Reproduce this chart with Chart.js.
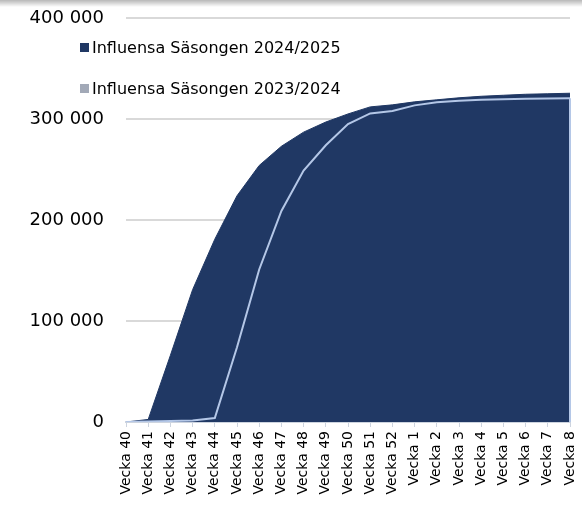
<!DOCTYPE html>
<html>
<head>
<meta charset="utf-8">
<script src="https://cdn.jsdelivr.net/npm/chart.js@4/dist/chart.umd.min.js"></script>
<style>
  html, body { margin: 0; padding: 0; background: #fff; }
  #wrap { position: relative; width: 582px; height: 505px; overflow: hidden; }
  #shade { position: absolute; left: 0; top: 0; width: 582px; height: 7px;
           background: linear-gradient(to bottom, rgba(0,0,0,0.28), rgba(0,0,0,0)); pointer-events: none; }
  #legend { position: absolute; left: 80px; top: 0; font-family: "DejaVu Sans", Verdana, sans-serif;
            font-size: 16px; color: #000; }
  .item { position: absolute; left: 0; white-space: nowrap; display: flex; align-items: center; height: 18px; }
  .box { width: 9px; height: 9px; margin-right: 3px; }
</style>
</head>
<body>
<div id="wrap">
  <canvas id="c" width="582" height="505"></canvas>
  <div id="legend"></div>
  <div id="shade"></div>
</div>
<script>
const categories = ['Vecka 40','Vecka 41','Vecka 42','Vecka 43','Vecka 44','Vecka 45','Vecka 46','Vecka 47','Vecka 48','Vecka 49','Vecka 50','Vecka 51','Vecka 52','Vecka 1','Vecka 2','Vecka 3','Vecka 4','Vecka 5','Vecka 6','Vecka 7','Vecka 8'];
const season2425 = [0, 2500, 66000, 131000, 181000, 224000, 254000, 273000, 287000, 297000, 305000, 312000, 314000, 317000, 319000, 321000, 322500, 323500, 324500, 325000, 325500];
const season2324 = [0, 500, 1000, 1500, 4000, 74000, 151000, 209000, 249000, 274000, 295000, 305500, 308000, 313500, 316500, 318000, 319000, 319500, 320000, 320300, 320500];
const yTicks = [0, 100000, 200000, 300000, 400000];
const seriesLabels = ['Influensa Säsongen 2024/2025', 'Influensa Säsongen 2023/2024'];

const NAVY = '#203864';
const LIGHT = '#B4C7E7';
const legendColors = [NAVY, '#A2A9B7'];
const legendTops = [38, 79];

const legendEl = document.getElementById('legend');
seriesLabels.forEach((lab, i) => {
  const d = document.createElement('div');
  d.className = 'item';
  d.style.top = legendTops[i] + 'px';
  const b = document.createElement('span');
  b.className = 'box';
  b.style.background = legendColors[i];
  const t = document.createElement('span');
  t.textContent = lab;
  d.appendChild(b); d.appendChild(t);
  legendEl.appendChild(d);
});

const edgePlugin = {
  id: 'edge',
  afterDatasetsDraw(chart) {
    const meta = chart.getDatasetMeta(1);
    const pts = meta.data;
    const last = pts[pts.length - 1];
    const y0 = chart.scales.y.getPixelForValue(0);
    const ctx = chart.ctx;
    ctx.save();
    ctx.strokeStyle = LIGHT;
    ctx.lineWidth = 2;
    ctx.beginPath();
    ctx.moveTo(last.x, last.y);
    ctx.lineTo(last.x, y0);
    ctx.stroke();
    ctx.restore();
  }
};

const fmt = v => String(v).replace(/\B(?=(\d{3})+(?!\d))/g, ' ');

new Chart(document.getElementById('c'), {
  type: 'line',
  data: {
    labels: categories,
    datasets: [
      { label: seriesLabels[0], data: season2425, fill: 'origin', backgroundColor: NAVY,
        borderColor: NAVY, borderWidth: 1, pointRadius: 0, tension: 0, order: 2 },
      { label: seriesLabels[1], data: season2324, fill: 'origin', backgroundColor: NAVY,
        borderColor: LIGHT, borderWidth: 2, pointRadius: 0, tension: 0, order: 1 }
    ]
  },
  options: {
    responsive: false,
    animation: false,
    layout: { padding: { left: 30, top: 18, right: 12, bottom: 0 } },
    plugins: { legend: { display: false }, tooltip: { enabled: false } },
    scales: {
      x: {
        offset: false,
        grid: { drawOnChartArea: false, drawTicks: true, tickLength: 5, color: '#CDD4DF', lineWidth: 1 },
        border: { display: true, color: '#CDD4DF', width: 2 },
        ticks: { autoSkip: false, maxRotation: 90, minRotation: 90, padding: 4,
                 color: '#000', font: { family: 'DejaVu Sans', size: 14 } },
        afterFit(s) { s.height = 83; s.paddingLeft = 0; s.paddingRight = 0; }
      },
      y: {
        min: 0, max: 400000,
        afterBuildTicks(s) { s.ticks = yTicks.map(v => ({ value: v })); },
        grid: { drawTicks: false, color: '#D9D9D9', lineWidth: 2 },
        border: { display: false },
        ticks: { padding: 22, color: '#000', font: { family: 'DejaVu Sans', size: 18 },
                 callback: v => fmt(v) },
        afterFit(s) { s.width = 96; s.paddingTop = 0; s.paddingBottom = 0; }
      }
    }
  },
  plugins: [edgePlugin]
});
</script>
</body>
</html>
